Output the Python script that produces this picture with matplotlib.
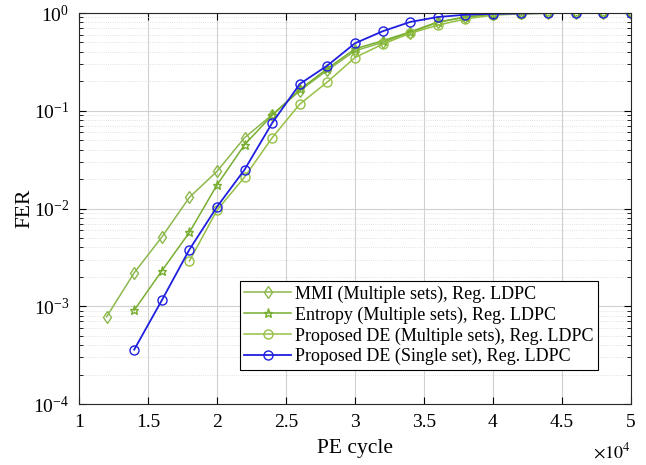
import matplotlib
matplotlib.use("Agg")
import matplotlib.pyplot as plt
from matplotlib.ticker import LogLocator, NullFormatter, MultipleLocator

plt.rcParams['font.family'] = ['Liberation Serif', 'DejaVu Serif']
plt.rcParams['mathtext.fontset'] = 'stix'

# PE cycles (x10^4)
pe = [1.2, 1.4, 1.6, 1.8, 2.0, 2.2, 2.4, 2.6, 2.8, 3.0, 3.2, 3.4, 3.6, 3.8, 4.0, 4.2, 4.4, 4.6, 4.8, 5.0]

fer_mmi = [7.8e-4, 2.2e-3, 5.1e-3, 1.3e-2, 2.4e-2, 5.3e-2, 0.091, 0.16, 0.26, 0.41, 0.50,
           0.63, 0.80, 0.91, 0.97, 0.99, 1.0, 1.0, 1.0, 1.0]
pe_ent = pe[1:]
fer_ent = [9.1e-4, 2.3e-3, 5.7e-3, 1.74e-2, 0.045, 0.09, 0.165, 0.27, 0.43, 0.52,
           0.64, 0.81, 0.91, 0.97, 0.99, 1.0, 1.0, 1.0, 1.0]
pe_dem = pe[3:]
fer_dem = [2.9e-3, 9.6e-3, 0.021, 0.053, 0.117, 0.197, 0.35, 0.48,
           0.62, 0.75, 0.87, 0.95, 0.98, 0.99, 1.0, 1.0, 1.0]
pe_des = pe[1:]
fer_des = [3.6e-4, 1.15e-3, 3.8e-3, 1.04e-2, 0.025, 0.075, 0.188, 0.29, 0.49, 0.65,
           0.81, 0.91, 0.96, 0.98, 0.99, 1.0, 1.0, 1.0, 1.0]

labels = ['MMI (Multiple sets), Reg. LDPC',
          'Entropy (Multiple sets), Reg. LDPC',
          'Proposed DE (Multiple sets), Reg. LDPC',
          'Proposed DE (Single set), Reg. LDPC']

fig = plt.figure(figsize=(6.46, 4.65), dpi=100)
ax = fig.add_axes([79/646, 1-404/465, (631-79)/646, (404-13)/465])

ax.semilogy(pe, fer_mmi, '-d', color='#8cb84c', mfc='none', ms=6.5, lw=1.1, label=labels[0])
ax.semilogy(pe_ent, fer_ent, '-*', color='#78ae30', mfc='none', ms=6.5, lw=1.1, label=labels[1])
ax.semilogy(pe_dem, fer_dem, '-o', color='#96c044', mfc='none', ms=6.5, lw=1.1, label=labels[2])
ax.semilogy(pe_des, fer_des, '-o', color='#1f1fe0', mfc='none', ms=6.5, lw=1.3, label=labels[3])

ax.set_xlim(1, 5)
ax.set_ylim(1e-4, 1)
ax.xaxis.set_major_locator(MultipleLocator(0.5))
ax.xaxis.set_major_formatter(plt.FuncFormatter(lambda v, p: f'{v:g}'))
ax.yaxis.set_major_locator(LogLocator(base=10, numticks=10))
ax.yaxis.set_minor_locator(LogLocator(base=10, subs=range(2, 10), numticks=20))
ax.yaxis.set_minor_formatter(NullFormatter())

ax.grid(True, which='major', color='#d0d0d0', lw=0.8)
ax.grid(True, which='minor', color='#d8d8d8', lw=0.6, ls=':')
ax.tick_params(which='both', direction='in', top=True, right=True, labelsize=14)
ax.tick_params(which='major', length=5, pad=7)
ax.tick_params(which='minor', length=3)
for s in ax.spines.values():
    s.set_color('#262626')
    s.set_linewidth(0.8)

ax.set_xlabel('PE cycle', fontsize=15.5, labelpad=6)
ax.set_ylabel('FER', fontsize=15.5, labelpad=-1)
ax.text(1.0, -0.138, r'$\times10^4$', transform=ax.transAxes, ha='right', va='baseline', fontsize=13)

leg = ax.legend(loc='lower right', bbox_to_anchor=(0.94, 0.087), fontsize=13,
                frameon=True, fancybox=False, edgecolor='black', framealpha=1,
                handlelength=2.6, handletextpad=0.2, borderpad=0.25, labelspacing=0.2,
                borderaxespad=0)
leg.get_frame().set_linewidth(0.8)

fig.savefig('out.png', dpi=100)
